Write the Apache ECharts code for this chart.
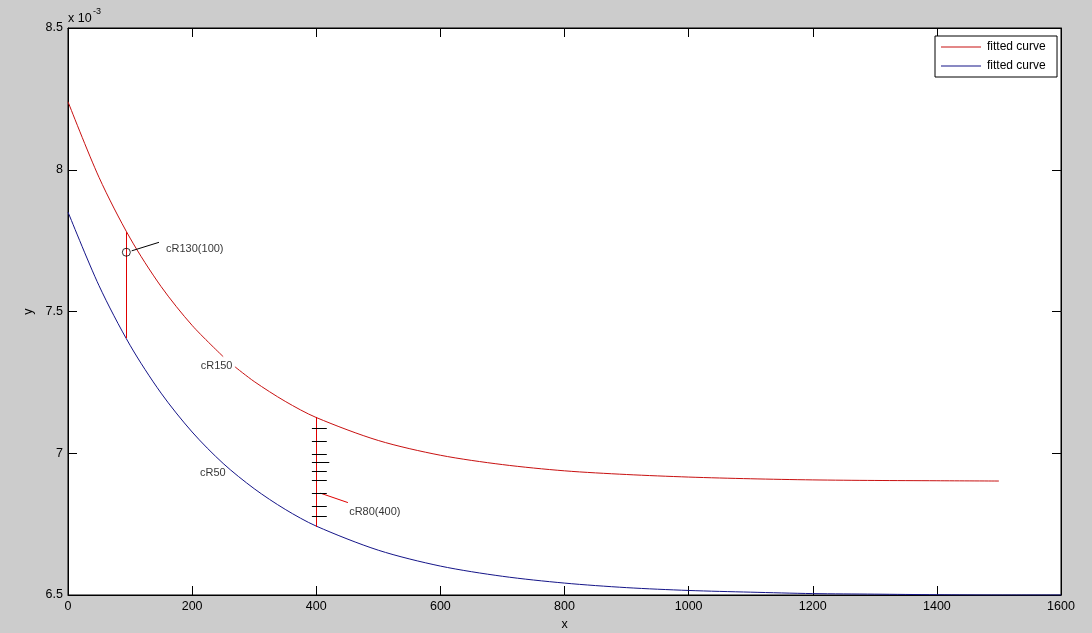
<!DOCTYPE html>
<html>
<head>
<meta charset="utf-8">
<script src="https://cdn.jsdelivr.net/npm/echarts@6/dist/echarts.min.js"></script>
<style>
html,body{margin:0;padding:0;background:#cccccc;overflow:hidden;}
#c{width:1092px;height:633px;}
</style>
</head>
<body>
<div id="c"></div>
<script>
// values in units of 1e-3 ('-' marks the break in the curve where the label sits)
var xTicks = [0, 200, 400, 600, 800, 1000, 1200, 1400, 1600];
var yTicks = [6.5, 7, 7.5, 8, 8.5];
var redX = [0,50,100,150,200,250,260,269,300,350,400,500,600,700,800,900,1000,1100,1200,1300,1400,1500];
var redY = [8.240,7.973,7.759,7.588,7.451,7.341,'-',7.305,7.253,7.183,7.126,7.045,6.993,6.960,6.938,6.925,6.916,6.910,6.906,6.904,6.903,6.902];
var blueX = [0,50,100,150,200,250,300,350,400,500,600,700,800,900,1000,1100,1200,1300,1400,1500,1600];
var blueY = [7.851,7.591,7.381,7.212,7.075,6.964,6.875,6.802,6.743,6.658,6.602,6.566,6.542,6.526,6.516,6.510,6.505,6.503,6.501,6.500,6.500];
var seriesNames = ['fitted curve', 'fitted curve '];
// annotation: vertical segment at x=94 (cR130)
var cut1X = 94, cut1Top = 7.78, cut1Bottom = 7.406;
var circlePt = [94, 7.709];
var pointer1 = [[102.6, 7.714], [146.6, 7.744]];
var label1 = {x: 158, y: 7.72, text: 'cR130(100)'};
// annotation: vertical segment at x=400 (cR80)
var cut2X = 400, cut2Top = 7.128, cut2Bottom = 6.740;
var tickYs = [7.088, 7.043, 6.997, 6.967, 6.937, 6.906, 6.859, 6.814, 6.779];
var tickX0 = 393, tickX1 = 417, tickLongX1 = 421, longTickIndex = 3;
var pointer2 = [[407, 6.859], [451, 6.826]];
var label2 = {x: 453, y: 6.793, text: 'cR80(400)'};
var label150 = {x: 213.8, y: 7.309, text: 'cR150'};
var label50 = {x: 212.7, y: 6.929, text: 'cR50'};

var FONT = 'Liberation Sans, Arial, sans-serif';
var RED = '#c81010';
var BLUE = '#141488';

function zip(a, b){ return a.map(function(v,i){ return [v, b[i]]; }); }

var tickSegs = tickYs.map(function(y, i){
  return {coords: [[tickX0, y], [i === longTickIndex ? tickLongX1 : tickX1, y]]};
});

var chart = echarts.init(document.getElementById('c'), null, {renderer: 'canvas'});
var axisCommon = {
  min: 0, max: 1600, interval: 200,
  axisLine: {show: true, onZero: false, lineStyle: {color: '#000', width: 1}},
  axisTick: {show: true, inside: true, length: 9, lineStyle: {color: '#000'}},
  splitLine: {show: false}
};
var option = {
  backgroundColor: '#cccccc',
  animation: false,
  grid: {left: 68, top: 28, width: 993, height: 567, containLabel: false, outerBoundsMode: 'none',
         show: true, backgroundColor: '#ffffff', borderColor: '#000', borderWidth: 1},
  legend: {
    data: seriesNames.map(function(n){ return {name: n, icon: 'rect'}; }),
    orient: 'vertical',
    left: 935, top: 36,
    backgroundColor: '#ffffff',
    borderColor: '#000', borderWidth: 1,
    padding: [5, 8, 5, 6],
    itemWidth: 40, itemHeight: 1, itemGap: 7,
    textStyle: {fontFamily: FONT, fontSize: 12, color: '#000', padding: [0, 0, 0, 1]}
  },
  xAxis: [
    Object.assign({}, axisCommon, {
      type: 'value', position: 'bottom', name: 'x', nameLocation: 'middle', nameGap: 23,
      nameTextStyle: {fontFamily: FONT, fontSize: 12.5, color: '#000'},
      axisLabel: {fontFamily: FONT, fontSize: 12.5, color: '#000', margin: 5,
        formatter: function(v){ return xTicks.indexOf(v) >= 0 ? String(v) : ''; }}
    }),
    Object.assign({}, axisCommon, {type: 'value', position: 'top', axisLabel: {show: false}})
  ],
  yAxis: [
    {
      type: 'value', position: 'left', min: 6.5, max: 8.5, interval: 0.5,
      name: 'y', nameLocation: 'middle', nameGap: 28, nameRotate: 90,
      nameTextStyle: {fontFamily: FONT, fontSize: 12.5, color: '#000'},
      axisLine: {show: true, onZero: false, lineStyle: {color: '#000'}},
      axisTick: {show: true, inside: true, length: 9, lineStyle: {color: '#000'}},
      splitLine: {show: false},
      axisLabel: {fontFamily: FONT, fontSize: 12.5, color: '#000', margin: 5,
        formatter: function(v){ return yTicks.indexOf(v) >= 0 ? String(v) : ''; }}
    },
    {
      type: 'value', position: 'right', min: 6.5, max: 8.5, interval: 0.5,
      axisLine: {show: true, onZero: false, lineStyle: {color: '#000'}},
      axisTick: {show: true, inside: true, length: 9, lineStyle: {color: '#000'}},
      splitLine: {show: false}, axisLabel: {show: false}
    }
  ],
  graphic: [
    {type: 'text', left: 68, top: 12, style: {text: 'x 10', font: '12.5px ' + FONT, fill: '#000'}},
    {type: 'text', left: 93, top: 7, style: {text: '-3', font: '9px ' + FONT, fill: '#000'}}
  ],
  series: [
    {name: seriesNames[0], type: 'line', data: zip(redX, redY), smooth: 0.3, symbol: 'none',
     connectNulls: false,
     lineStyle: {color: RED, width: 1}, itemStyle: {color: RED}, z: 3},
    {name: seriesNames[1], type: 'line', data: zip(blueX, blueY), smooth: 0.3, symbol: 'none',
     lineStyle: {color: BLUE, width: 1}, itemStyle: {color: BLUE}, z: 3},
    {type: 'lines', coordinateSystem: 'cartesian2d', z: 4,
     lineStyle: {color: '#e00000', width: 1, opacity: 1},
     data: [
       {coords: [[cut1X, cut1Top], [cut1X, cut1Bottom]]},
       {coords: [[cut2X, cut2Top], [cut2X, cut2Bottom]]},
       {coords: pointer2}
     ]},
    {type: 'lines', coordinateSystem: 'cartesian2d', z: 5,
     lineStyle: {color: '#000', width: 1, opacity: 1},
     data: tickSegs.concat([{coords: pointer1}])},
    {type: 'scatter', z: 6, symbol: 'circle', symbolSize: 8,
     itemStyle: {color: 'rgba(0,0,0,0)', borderColor: '#000', borderWidth: 1},
     data: [circlePt]},
    {type: 'scatter', z: 6, symbolSize: 0,
     label: {show: true, position: 'right', distance: 0, fontFamily: FONT, fontSize: 11, color: '#000',
       formatter: function(p){ return p.data[2]; }},
     data: [label1, label2, label150, label50].map(function(l){ return [l.x, l.y, l.text]; })}
  ]
};
chart.setOption(option);
</script>
</body>
</html>
